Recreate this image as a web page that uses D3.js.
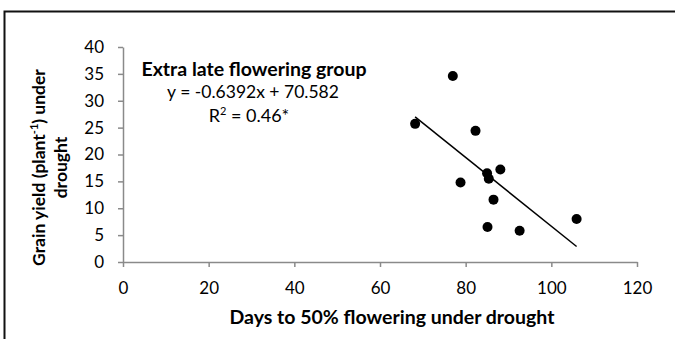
<!DOCTYPE html>
<html>
<head>
<meta charset="utf-8">
<script src="https://cdn.jsdelivr.net/npm/d3@7"></script>
<style>
  body { margin: 0; background: #fff; }
  text { font-family: Lato, "Open Sans", sans-serif; fill: #000; }
</style>
</head>
<body>
<script>
// data
var days = [68.2, 77.0, 78.8, 82.3, 85.0, 85.1, 85.4, 86.5, 88.1, 92.6, 105.9];
var yield_ = [25.7, 34.6, 14.8, 24.4, 16.5, 6.5, 15.5, 11.6, 17.2, 5.8, 8.0];
var x_ticks = [0, 20, 40, 60, 80, 100, 120];
var y_ticks = [0, 5, 10, 15, 20, 25, 30, 35, 40];
var slope = -0.6392, intercept = 70.582;

var W = 675, H = 339;
var left = 123, right = 637, top_ = 47, bottom = 262;

var svg = d3.select('body').append('svg')
    .attr('width', W)
    .attr('height', H)

// frame (top and left edges only are visible)
svg.append('path')
  .attr('d', 'M4.5,339 V11.5 H675')
  .attr('fill', 'none')
  .attr('stroke', '#111')
  .attr('stroke-width', 2)

var x = d3.scaleLinear().domain([0, 120]).range([left, right]);
var y = d3.scaleLinear().domain([0, 40]).range([bottom, top_]);

// axes
var xaxis = svg.append('g')
  .attr('transform', 'translate(0,' + bottom + ')')
  .call(d3.axisBottom(x).tickValues(x_ticks).tickSize(5).tickPadding(15).tickSizeOuter(0));
var yaxis = svg.append('g')
  .attr('transform', 'translate(' + left + ',0)')
  .call(d3.axisLeft(y).tickValues(y_ticks).tickSize(5).tickPadding(14).tickSizeOuter(0));

[xaxis, yaxis].forEach(function(g) {
  g.select('.domain').attr('stroke', '#8a8a8a').attr('stroke-width', 1.5)
  g.selectAll('.tick line').attr('stroke', '#8a8a8a').attr('stroke-width', 1.5)
  g.selectAll('.tick text').attr('font-size', 17).attr('font-family', 'Lato, sans-serif').attr('fill', '#111')
});

// trend line over the range of the data
var xmin = d3.min(days), xmax = d3.max(days);
svg.append('line')
  .attr('x1', x(xmin)).attr('y1', y(slope * xmin + intercept))
  .attr('x2', x(xmax)).attr('y2', y(slope * xmax + intercept))
  .attr('stroke', '#000')
  .attr('stroke-width', 1.5)

// points
svg.selectAll('.pt').data(days)
  .enter().append('circle')
    .attr('class', 'pt')
    .attr('cx', function(d) { return x(d); })
    .attr('cy', function(d, i) { return y(yield_[i]); })
    .attr('r', 5)
    .attr('fill', '#000')

// annotation
svg.append('text').text('Extra late flowering group')
  .attr('x', 254).attr('y', 76)
  .attr('text-anchor', 'middle')
  .attr('font-weight', 'bold')
  .attr('font-size', 19.5)
svg.append('text').text('y = -0.6392x + 70.582')
  .attr('x', 253).attr('y', 98)
  .attr('text-anchor', 'middle')
  .attr('font-size', 17.5)
var r2 = svg.append('text')
  .attr('x', 249).attr('y', 122)
  .attr('text-anchor', 'middle')
  .attr('font-size', 18)
r2.append('tspan').text('R')
r2.append('tspan').text('2').attr('font-size', 11).attr('dy', -7)
r2.append('tspan').text(' = 0.46*').attr('dy', 7)

// axis titles
svg.append('text').text('Days to 50% flowering under drought')
  .attr('x', 392).attr('y', 324)
  .attr('text-anchor', 'middle')
  .attr('font-weight', 'bold')
  .attr('font-size', 19.5)

var ylab = svg.append('text')
  .attr('transform', 'translate(45,167.5) rotate(-90)')
  .attr('text-anchor', 'middle')
  .attr('font-weight', 'bold')
  .attr('font-size', 17.5)
ylab.append('tspan').text('Grain yield (plant')
ylab.append('tspan').text('-1').attr('font-size', 11).attr('dy', -7)
ylab.append('tspan').text(') under').attr('dy', 7)
svg.append('text').text('drought')
  .attr('transform', 'translate(67,167.5) rotate(-90)')
  .attr('text-anchor', 'middle')
  .attr('font-weight', 'bold')
  .attr('font-size', 17.5)
</script>
</body>
</html>
